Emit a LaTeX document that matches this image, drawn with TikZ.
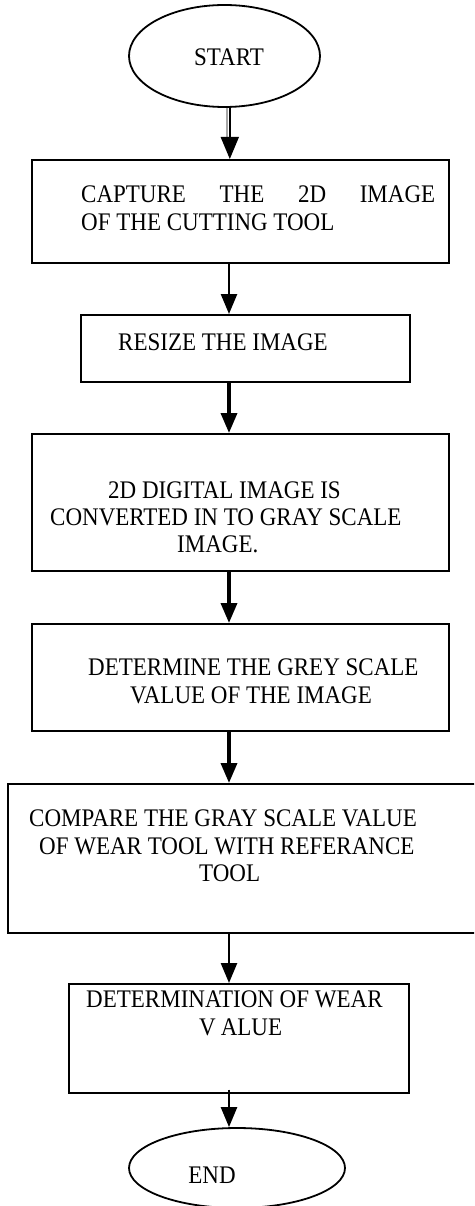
\documentclass[tikz,border=0pt]{standalone}
\usepackage{fontspec}
\usepackage{graphicx}
\setmainfont{Liberation Serif}
\usetikzlibrary{shapes.geometric,arrows.meta}
\newcommand{\tline}[1]{\scalebox{1}[1.1]{#1}}
\begin{document}
\begin{tikzpicture}[x=1pt,y=-1pt,
  box/.style={draw, line width=1.6pt, rectangle, inner sep=0pt, anchor=north west},
  oval/.style={draw, ellipse, line width=1.8pt, inner sep=0pt},
  txt/.style={font=\fontsize{23}{27}\selectfont, inner sep=0pt},
  arr/.style={-{Triangle[length=20pt,width=16pt]}, line width=2.5pt},
  arrthick/.style={arr, line width=3.5pt},
]
\useasboundingbox (0,0) rectangle (474,1206);
\clip (0,0) rectangle (474,1206);
\coordinate (ax) at (229,0);

% shapes
\node[oval, minimum width=191pt, minimum height=102pt] (start) at (224.5,56) {};
\node[box, minimum width=417pt, minimum height=103pt] (b1) at (31,159) {};
\node[box, minimum width=329pt, minimum height=67pt]  (b2) at (80,314) {};
\node[box, minimum width=417pt, minimum height=137pt] (b3) at (31,433) {};
\node[box, minimum width=417pt, minimum height=107pt] (b4) at (31,623) {};
\node[box, minimum width=468pt, minimum height=149pt] (b5) at (7,783) {};
\node[box, minimum width=340pt, minimum height=109pt] (b6) at (68,983) {};
\node[oval, minimum width=216pt, minimum height=80pt] (end) at (237,1168) {};

% texts
\node[txt, anchor=base] (tstart) at (229,66) {\tline{START}};
\node[txt, anchor=base west] (t1a) at (81,203) {\tline{\makebox[354pt]{CAPTURE\hfill THE\hfill 2D\hfill IMAGE}}};
\node[txt, anchor=base west] (t1b) at (81,231) {\tline{OF THE CUTTING TOOL}};
\node[txt, anchor=base west] (t2) at (118,350) {\tline{RESIZE THE IMAGE}};
\node[txt, anchor=base west] (t3a) at (108,498) {\tline{2D DIGITAL IMAGE IS}};
\node[txt, anchor=base west] (t3b) at (50,525) {\tline{CONVERTED IN TO GRAY SCALE}};
\node[txt, anchor=base west] (t3c) at (177,552) {\tline{IMAGE.}};
\node[txt, anchor=base west] (t4a) at (88,675) {\tline{DETERMINE THE GREY SCALE}};
\node[txt, anchor=base west] (t4b) at (130,703) {\tline{VALUE OF THE IMAGE}};
\node[txt, anchor=base west] (t5a) at (29,826) {\tline{COMPARE THE GRAY SCALE VALUE}};
\node[txt, anchor=base west] (t5b) at (39,854) {\tline{OF WEAR TOOL WITH REFERANCE}};
\node[txt, anchor=base west] (t5c) at (199,881) {\tline{TOOL}};
\node[txt, anchor=base west] (t6a) at (86,1007) {\tline{DETERMINATION OF WEAR}};
\node[txt, anchor=base west] (t6b) at (199,1035) {\tline{V\kern5pt ALUE}};
\node[txt, anchor=base] (tend) at (212,1183) {\tline{END}};

% connectors
\draw[gray!70, line width=2pt] ([xshift=-2pt]start.south -| ax) -- ([xshift=-2pt,yshift=22pt]b1.north -| ax);
\draw[-{Triangle[length=22pt,width=18pt]}, line width=1.6pt] ([xshift=0.8pt]start.south -| ax) -- ([xshift=0.8pt]b1.north -| ax);
\draw[arr] (b1.south -| ax) -- (b2.north -| ax);
\draw[arrthick] (b2.south -| ax) -- (b3.north -| ax);
\draw[arrthick] (b3.south -| ax) -- (b4.north -| ax);
\draw[arrthick] (b4.south -| ax) -- (b5.north -| ax);
\draw[arr] (b5.south -| ax) -- (b6.north -| ax);
\draw[arr] ([yshift=4pt]b6.south -| ax) -- (end.north -| ax);
\end{tikzpicture}
\end{document}
